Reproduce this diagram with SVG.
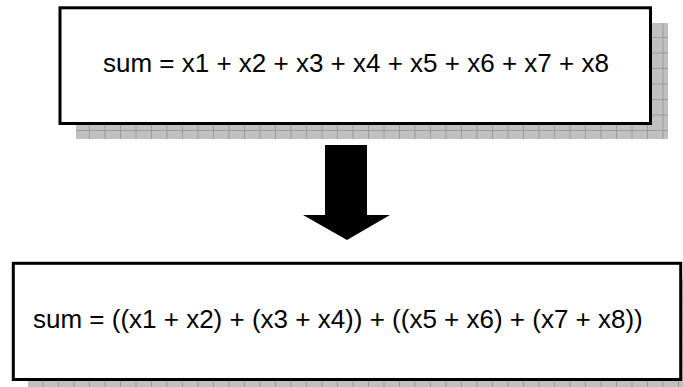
<svg xmlns="http://www.w3.org/2000/svg" width="683" height="387" viewBox="0 0 683 387">
<defs>
<pattern id="grid" patternUnits="userSpaceOnUse" width="15.5" height="15.5" x="12.5" y="7">
<rect width="15.5" height="15.5" fill="#c0c0c0"/>
<path d="M15 0V15.5M0 15H15.5" stroke="#9a9a9a" stroke-width="1" fill="none"/>
</pattern>
</defs>
<style>
.box{fill:#ffffff;stroke:#000000;stroke-width:3}
.shadow{fill:url(#grid)}
.lbl{font-family:"Liberation Sans",Arial,sans-serif;font-size:26px;fill:#000000}
</style>
<rect width="683" height="387" fill="#ffffff"/>
<g id="node-top">
<rect class="shadow" x="76" y="23" width="592" height="116"/>
<rect class="box" x="60" y="7.8" width="590.5" height="115.7"/>
<text class="lbl" x="103" y="71.7">sum = x1 + x2 + x3 + x4 + x5 + x6 + x7 + x8</text>
</g>
<g id="node-bottom">
<rect class="shadow" x="28" y="279" width="670" height="118"/>
<rect class="box" x="13.3" y="263.3" width="667.4" height="116.2"/>
<text class="lbl" x="33" y="328.3">sum = ((x1 + x2) + (x3 + x4)) + ((x5 + x6) + (x7 + x8))</text>
</g>
<g id="connectors">
<polygon points="325,145 367,145 367,215 390,215 347,240 303,215 325,215" fill="#000000"/>
</g>
</svg>
